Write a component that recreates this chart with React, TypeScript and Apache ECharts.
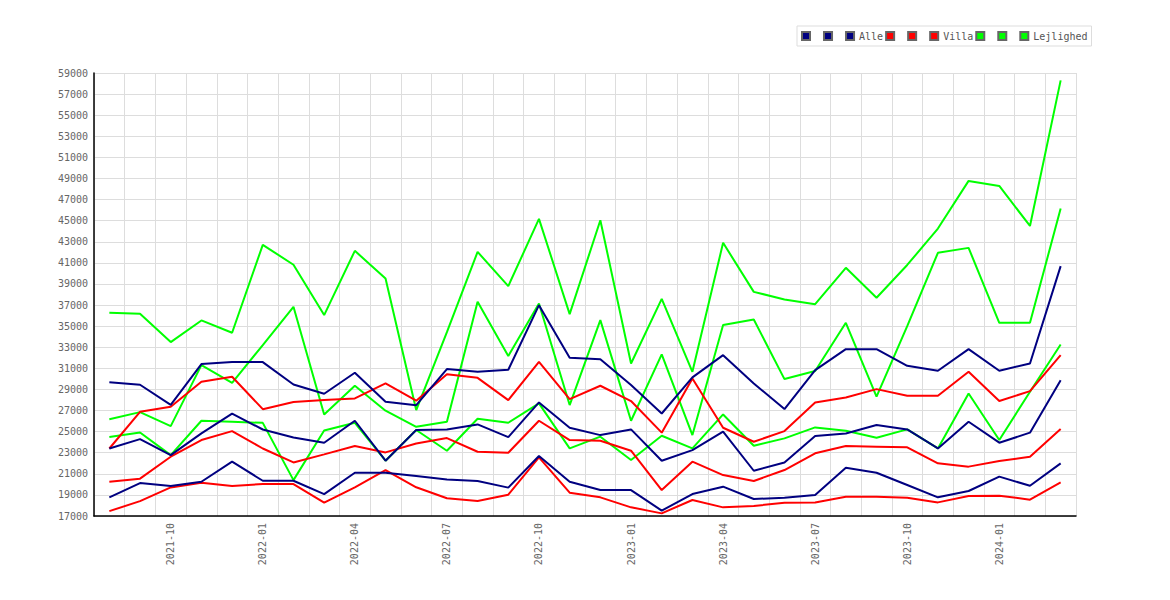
import React, { useEffect, useRef } from "react";
import * as echarts from "echarts";

const categories = [
  "2021-08", "2021-09", "2021-10", "2021-11", "2021-12",
  "2022-01", "2022-02", "2022-03", "2022-04", "2022-05", "2022-06", "2022-07", "2022-08", "2022-09", "2022-10", "2022-11", "2022-12",
  "2023-01", "2023-02", "2023-03", "2023-04", "2023-05", "2023-06", "2023-07", "2023-08", "2023-09", "2023-10", "2023-11", "2023-12",
  "2024-01", "2024-02", "2024-03",
];

const alleMax = [29690, 29440, 27540, 31400, 31590, 31590, 29470, 28590, 30580, 27830, 27510, 30930, 30680, 30870, 36990, 32000, 31870, 29410, 26720, 30140, 32250, 29570, 27140, 30830, 32820, 32820, 31240, 30770, 32820, 30770, 31460, 40690];
const alleMid = [23400, 24290, 22770, 24830, 26700, 25200, 24450, 23940, 26030, 22240, 25150, 25210, 25680, 24480, 27770, 25370, 24670, 25210, 22240, 23250, 24990, 21290, 22080, 24580, 24830, 25620, 25210, 23410, 25940, 23950, 24900, 29880];
const alleMin = [18760, 20120, 19840, 20250, 22150, 20340, 20340, 19080, 21100, 21100, 20790, 20470, 20310, 19690, 22690, 20250, 19460, 19460, 17510, 19080, 19780, 18610, 18740, 18990, 21580, 21100, 19940, 18770, 19370, 20730, 19870, 21990];

const villaMax = [23400, 26880, 27350, 29720, 30200, 27130, 27800, 27990, 28150, 29570, 27930, 30450, 30100, 27990, 31620, 28080, 29350, 27900, 24900, 30040, 25370, 24040, 25050, 27770, 28240, 29030, 28400, 28400, 30670, 27900, 28840, 32250];
const villaMid = [20250, 20540, 22620, 24200, 25050, 23400, 22080, 22840, 23630, 23030, 23880, 24390, 23090, 23000, 26030, 24200, 24140, 23190, 19460, 22150, 20880, 20320, 21360, 22940, 23630, 23570, 23510, 21990, 21680, 22210, 22620, 25240];
const villaMin = [17460, 18410, 19710, 20150, 19840, 20030, 20030, 18260, 19720, 21360, 19720, 18680, 18420, 19020, 22560, 19210, 18770, 17820, 17250, 18520, 17820, 17950, 18260, 18290, 18830, 18830, 18740, 18290, 18890, 18930, 18550, 20190];

const lejMax = [36270, 36170, 33490, 35540, 34370, 42710, 40820, 36050, 42140, 39520, 27040, 34430, 42040, 38790, 45170, 36140, 45040, 31460, 37590, 30670, 42900, 38250, 37530, 37080, 40530, 37690, 40800, 44250, 48770, 48290, 44500, 58300];
const lejMid = [26180, 26850, 25520, 31300, 29630, 33200, 36830, 26630, 29350, 26980, 25460, 25930, 37310, 32160, 37150, 27520, 35570, 26030, 32320, 24670, 35100, 35630, 29980, 30740, 35320, 28310, 35000, 41950, 42420, 35320, 35320, 46150];
const lejMin = [24480, 24920, 22770, 26030, 25930, 25830, 20400, 25100, 25840, 22240, 25150, 23190, 26220, 25840, 27680, 23410, 24520, 22310, 24610, 23410, 26630, 23660, 24360, 25400, 25080, 24420, 25210, 23410, 28620, 24200, 28780, 33260];

const groups = [
  { label: "Alle", color: "#000080", data: [alleMax, alleMid, alleMin], z: 4 },
  { label: "Villa", color: "#ff0000", data: [villaMax, villaMid, villaMin], z: 3 },
  { label: "Lejlighed", color: "#00ff00", data: [lejMax, lejMid, lejMin], z: 2 },
];

const FONT = "DejaVu Sans Mono";

export default function App() {
  const ref = useRef<HTMLDivElement>(null);
  useEffect(() => {
    if (!ref.current) return;
    const chart = echarts.init(ref.current, null, { renderer: "svg" });
    const series: any[] = [];
    const legendData: string[] = [];
    const labelOf: Record<string, string> = {};
    groups.forEach((g) => {
      const names = [g.label + "#1", g.label + "#2", g.label];
      names.forEach((n, k) => {
        legendData.push(n);
        labelOf[n] = k === 2 ? g.label : " ";
        series.push({
          name: n,
          type: "line",
          data: g.data[2 - k],
          symbol: "none",
          z: g.z,
          lineStyle: { color: g.color, width: 2 },
          itemStyle: { color: g.color, borderColor: "#666", borderWidth: 1 },
          emphasis: { disabled: true },
        });
      });
    });
    chart.setOption({
      animation: false,
      backgroundColor: "#fff",
      legend: {
        data: legendData,
        left: 797,
        top: 26,
        padding: [5, 4, 5, 4],
        itemGap: 2,
        itemWidth: 8,
        itemHeight: 8,
        icon: "rect",
        borderColor: "#ddd",
        borderWidth: 1,
        selectedMode: false,
        formatter: (n: string) => labelOf[n],
        textStyle: { fontFamily: FONT, fontSize: 10, color: "#555" },
      },
      grid: { left: 94, right: 94, top: 73, bottom: 84, containLabel: false },
      xAxis: {
        type: "category",
        data: categories,
        boundaryGap: true,
        axisLine: { show: true, lineStyle: { color: "#000", width: 1.5 } },
        axisTick: { show: false },
        axisLabel: {
          interval: (idx: number) => (idx - 2) % 3 === 0,
          rotate: 90,
          margin: 7,
          fontFamily: FONT,
          fontSize: 10,
          color: "#666",
        },
        splitLine: { show: true, interval: 0, lineStyle: { color: "#ddd", width: 1 } },
      },
      yAxis: {
        type: "value",
        min: 17000,
        max: 59000,
        interval: 2000,
        axisLine: { show: true, lineStyle: { color: "#000", width: 1.5 } },
        axisTick: { show: false },
        axisLabel: {
          margin: 6,
          fontFamily: FONT,
          fontSize: 10,
          color: "#666",
          formatter: (v: number) => String(v),
        },
        splitLine: { show: true, lineStyle: { color: "#ddd", width: 1 } },
      },
      series,
    });
    return () => chart.dispose();
  }, []);
  return (
    <div
      ref={ref}
      style={{ position: "fixed", left: 0, top: 0, width: 1170, height: 600, background: "#fff" }}
    />
  );
}
